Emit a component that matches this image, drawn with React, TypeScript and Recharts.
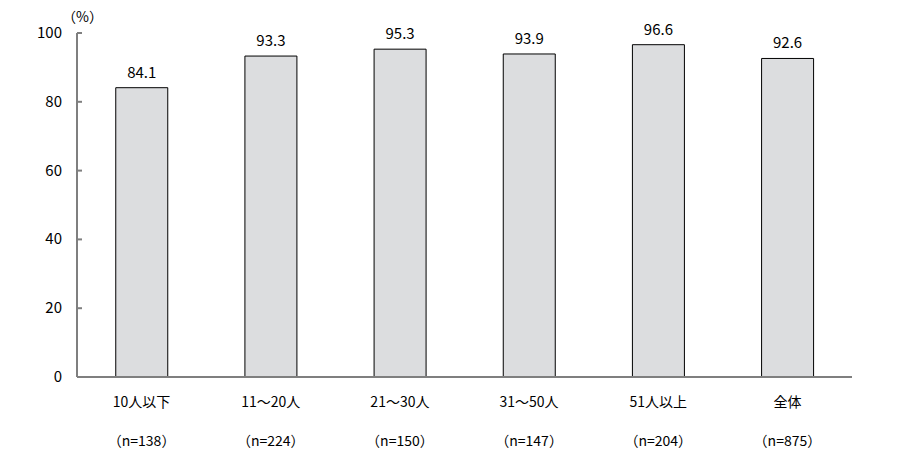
import React from 'react';
import { BarChart, Bar, XAxis, YAxis, LabelList } from 'recharts';

const categories = ['10人以下', '11～20人', '21～30人', '31～50人', '51人以上', '全体'];
const sampleSizes = ['（n=138）', '（n=224）', '（n=150）', '（n=147）', '（n=204）', '（n=875）'];
const values = [84.1, 93.3, 95.3, 93.9, 96.6, 92.6];
const yTicks = [0, 20, 40, 60, 80, 100];

const data = categories.map((c, i) => ({ name: c, n: sampleSizes[i], value: values[i] }));

const FONT = '"Noto Sans CJK JP", "Noto Sans", sans-serif';

const YTick = (props: any) => {
  const { y, payload } = props;
  return (
    <g>
      <line x1={77} y1={y} x2={82} y2={y} stroke="#7f7f7f" strokeWidth={2} />
      <text x={62} y={y} dy={5} textAnchor="end" fontSize={15} fill="#000" fontFamily={FONT}>
        {payload.value}
      </text>
    </g>
  );
};

const XTick = (props: any) => {
  const { x, y, payload, index } = props;
  return (
    <g>
      <text x={x} y={y + 28} textAnchor="middle" fontSize={14} fill="#000" fontFamily={FONT}>
        {payload.value}
      </text>
      <text x={x} y={y + 67} textAnchor="middle" fontSize={14} fill="#000" fontFamily={FONT}>
        {sampleSizes[index]}
      </text>
    </g>
  );
};

export default function App() {
  return (
    <div style={{ position: 'absolute', left: 0, top: 0, width: 913, height: 457, background: '#fff' }}>
      <BarChart
        width={913}
        height={457}
        data={data}
        margin={{ top: 33, right: 61, bottom: 0, left: 0 }}
        barCategoryGap="30%"
      >
        <XAxis
          dataKey="name"
          height={80}
          tickLine={false}
          tickSize={0}
          axisLine={{ stroke: '#7f7f7f', strokeWidth: 2 }}
          tick={<XTick />}
          interval={0}
        />
        <YAxis
          width={77}
          domain={[0, 100]}
          ticks={yTicks}
          tickLine={false}
          tickSize={0}
          tickMargin={0}
          axisLine={{ stroke: '#7f7f7f', strokeWidth: 2 }}
          tick={<YTick />}
          interval={0}
        />
        <Bar dataKey="value" fill="#dcdddf" stroke="#000" strokeWidth={1} isAnimationActive={false}>
          <LabelList
            dataKey="value"
            position="top"
            offset={10}
            fontSize={15}
            fill="#000"
            fontFamily={FONT}
          />
        </Bar>
        <text x={62} y={22} fontSize={14} fill="#000" fontFamily={FONT}>
          （%）
        </text>
      </BarChart>
    </div>
  );
}
